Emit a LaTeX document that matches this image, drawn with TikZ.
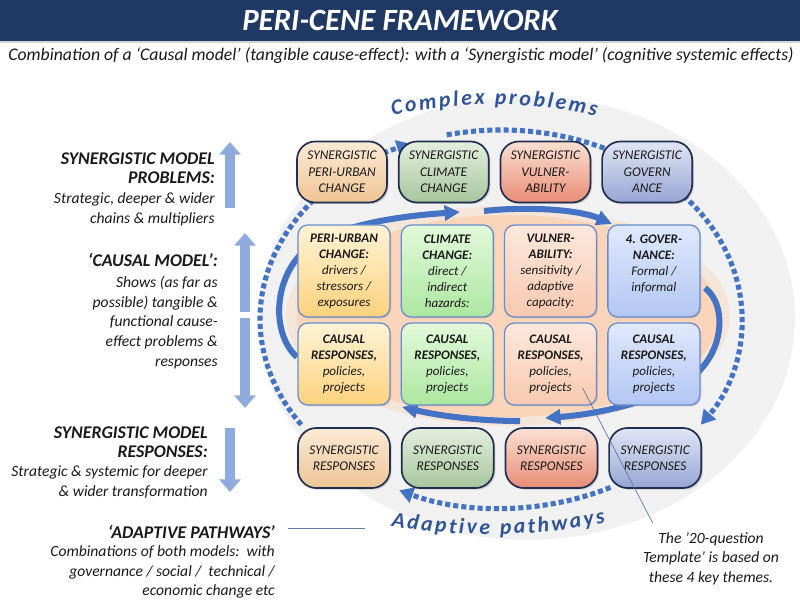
\documentclass[tikz,border=0pt]{standalone}
\usepackage{fontspec}
\setmainfont{Carlito}
\usetikzlibrary{arrows.meta,chains,positioning,shadows,decorations.text}

\definecolor{barnavy}{RGB}{32,56,100}
\definecolor{ringblue}{RGB}{68,114,196}
\definecolor{arcblue}{RGB}{47,85,151}
\definecolor{sideblue}{RGB}{143,170,220}
\definecolor{boxedge}{RGB}{105,140,205}
\definecolor{synedge}{RGB}{32,46,82}
\definecolor{haze}{RGB}{241,241,241}
\definecolor{peach}{RGB}{250,213,186}
\definecolor{ink}{RGB}{25,25,25}
\definecolor{synurbanhi}{RGB}{251,234,214}
\definecolor{synurbanlo}{RGB}{238,196,148}
\definecolor{synclimhi}{RGB}{228,238,222}
\definecolor{synclimlo}{RGB}{166,198,156}
\definecolor{synvulnhi}{RGB}{250,224,210}
\definecolor{synvulnlo}{RGB}{233,140,118}
\definecolor{syngovhi}{RGB}{224,229,244}
\definecolor{syngovlo}{RGB}{150,166,211}
\definecolor{urbanhi}{RGB}{255,243,214}
\definecolor{urbanlo}{RGB}{252,210,125}
\definecolor{climhi}{RGB}{226,249,218}
\definecolor{climlo}{RGB}{172,230,160}
\definecolor{vulnhi}{RGB}{253,232,220}
\definecolor{vulnlo}{RGB}{247,201,176}
\definecolor{govhi}{RGB}{224,233,252}
\definecolor{govlo}{RGB}{178,198,243}

\newcommand\arcstyle{\bfseries\itshape\fontsize{15.5}{18}\selectfont\color{arcblue}\kern1.8pt}

\begin{document}
\begin{tikzpicture}[
  x=0.025cm, y=0.025cm,
  node distance=0.25cm,
  start chain=problems going right,
  start chain=causes going right,
  start chain=answers going right,
  start chain=responses going right,
  synergy/.style={
    draw=synedge,
    line width=1.2pt,
    rounded corners=13pt,
    minimum width=2.25cm,
    minimum height=1.525cm,
    inner sep=1pt,
    align=center,
    text=ink,
    font=\fontsize{9.5}{11.8}\selectfont\itshape,
    drop shadow={opacity=0.3,shadow xshift=1.2pt,shadow yshift=-1.2pt}
  },
  causal/.style={
    draw=boxedge,
    line width=0.9pt,
    rounded corners=7pt,
    minimum width=2.3cm,
    inner sep=1pt,
    align=center,
    text=ink,
    font=\fontsize{9.3}{11.4}\selectfont\itshape,
    drop shadow={opacity=0.25,shadow xshift=1pt,shadow yshift=-1pt}
  },
  synurban/.style={top color=synurbanhi,bottom color=synurbanlo},
  synclim/.style={top color=synclimhi,bottom color=synclimlo},
  synvuln/.style={top color=synvulnhi,bottom color=synvulnlo},
  syngov/.style={top color=syngovhi,bottom color=syngovlo},
  urban/.style={top color=urbanhi,bottom color=urbanlo},
  clim/.style={top color=climhi,bottom color=climlo},
  vuln/.style={top color=vulnhi,bottom color=vulnlo},
  gov/.style={top color=govhi,bottom color=govlo},
  heading/.style={
    anchor=north east,
    align=right,
    inner sep=0pt,
    text=ink,
    font=\fontsize{12.7}{14.2}\selectfont\bfseries\itshape
  },
  sidebody/.style={
    align=right,
    inner sep=0pt,
    text=ink,
    font=\fontsize{11.1}{14}\selectfont\itshape
  },
  sidearrow/.style={color=sideblue,line width=7pt,-{Triangle[length=9pt,width=15pt]}},
  ringdots/.style={draw=ringblue,line width=3.6pt,dash pattern=on 3.6pt off 2.2pt,-{Triangle[length=10pt,width=11pt]}},
  flow/.style={draw=ringblue,line width=4.3pt,-{Triangle[length=11pt,width=10.5pt]}},
  noteline/.style={draw=ringblue!55!gray,line width=0.5pt}
]
  \useasboundingbox (0,0) rectangle (800,-600);

  \node[fill=barnavy,minimum width=20cm,minimum height=1.025cm,anchor=north,text=white,
    font=\fontsize{22}{24}\selectfont\bfseries\itshape,
    drop shadow={opacity=0.35,shadow xshift=0pt,shadow yshift=-1.5pt}] (title) at (400,0) {PERI-CENE FRAMEWORK};
  \node[text=ink,font=\fontsize{12.6}{14}\selectfont\itshape] (subtitle) at (401,-56)
    {Combination of a ‘Causal model’ (tangible cause-effect): with a ‘Synergistic model’ (cognitive systemic effects)};

  \coordinate (ring) at (501,-319);
  \coordinate (core) at (508,-316);

  \fill[haze] (527,-318) ellipse [x radius=268, y radius=222];
  \fill[peach!45!haze] (core) ellipse [x radius=222, y radius=110];
  \fill[peach] (core) ellipse [x radius=211, y radius=101];

  \draw[ringdots] ([shift={(214:241 and 189)}]ring) arc[start angle=214,end angle=112,x radius=241,y radius=189];
  \draw[ringdots] ([shift={(103:241 and 189)}]ring) arc[start angle=103,end angle=-34,x radius=241,y radius=189];
  \draw[ringdots] ([shift={(-63:241 and 189)}]ring) arc[start angle=-63,end angle=-115,x radius=241,y radius=189];

  \coordinate (west-in) at (297,-357);
  \coordinate (north-mid) at (460,-212);
  \coordinate (north-out) at (484,-211);
  \coordinate (north-east) at (612,-224);
  \coordinate (east-in) at (705,-288);
  \coordinate (south-mid) at (545,-418);
  \coordinate (south-out) at (520,-421);
  \coordinate (south-west) at (402,-407);

  \draw[flow] (west-in) .. controls (272,-335) and (272,-280) .. (305,-250)
    .. controls (335,-225) and (400,-216) .. (north-mid);
  \draw[flow] (north-out) .. controls (530,-206) and (580,-210) .. (north-east);
  \draw[flow] (east-in) .. controls (728,-305) and (725,-358) .. (685,-382)
    .. controls (650,-402) and (600,-414) .. (south-mid);
  \draw[flow] (south-out) .. controls (480,-421) and (440,-416) .. (south-west);

  \node[synergy,on chain=problems,synurban] (urban-syn) at (342,-172) {SYNERGISTIC\\PERI-URBAN\\CHANGE};
  \node[synergy,on chain=problems,synclim] (climate-syn) {SYNERGISTIC\\CLIMATE\\CHANGE};
  \node[synergy,on chain=problems,synvuln] (vuln-syn) {SYNERGISTIC\\VULNER-\\ABILITY};
  \node[synergy,on chain=problems,syngov] (gov-syn) {SYNERGISTIC\\GOVERN\\ANCE};

  \node[causal,minimum height=2.3cm,on chain=causes,urban] (urban) at (344,-271)
    {\textbf{PERI-URBAN}\\\textbf{CHANGE:}\\drivers /\\stressors /\\exposures};
  \node[causal,minimum height=2.3cm,on chain=causes,clim] (climate)
    {\textbf{CLIMATE}\\\textbf{CHANGE:}\\direct /\\indirect\\hazards:};
  \node[causal,minimum height=2.3cm,on chain=causes,vuln] (vuln)
    {\textbf{VULNER-}\\\textbf{ABILITY:}\\sensitivity /\\adaptive\\capacity:};
  \node[causal,minimum height=2.3cm,on chain=causes,gov] (gov)
    {\textbf{4. GOVER-}\\\textbf{NANCE:}\\Formal /\\informal\\~};

  \node[causal,minimum height=2.05cm,on chain=answers,urban] (urban-act) at (344,-364)
    {\textbf{CAUSAL}\\\textbf{RESPONSES,}\\policies,\\projects};
  \node[causal,minimum height=2.05cm,on chain=answers,clim] (climate-act)
    {\textbf{CAUSAL}\\\textbf{RESPONSES,}\\policies,\\projects};
  \node[causal,minimum height=2.05cm,on chain=answers,vuln] (vuln-act)
    {\textbf{CAUSAL}\\\textbf{RESPONSES,}\\policies,\\projects};
  \node[causal,minimum height=2.05cm,on chain=answers,gov] (gov-act)
    {\textbf{CAUSAL}\\\textbf{RESPONSES,}\\policies,\\projects};

  \node[synergy,minimum width=2.3cm,minimum height=1.5cm,on chain=responses,synurban] (urban-resp) at (344,-458) {SYNERGISTIC\\RESPONSES};
  \node[synergy,minimum width=2.3cm,minimum height=1.5cm,on chain=responses,synclim] (climate-resp) {SYNERGISTIC\\RESPONSES};
  \node[synergy,minimum width=2.3cm,minimum height=1.5cm,on chain=responses,synvuln] (vuln-resp) {SYNERGISTIC\\RESPONSES};
  \node[synergy,minimum width=2.3cm,minimum height=1.5cm,on chain=responses,syngov] (gov-resp) {SYNERGISTIC\\RESPONSES};

  \path[decorate,decoration={text along path,text align=center,text={|\arcstyle|Complex problems}}]
    (372,-121) .. controls (445,-99) and (540,-99) .. (614,-121);
  \path[decorate,decoration={text along path,text align=center,text={|\arcstyle|Adaptive pathways}}]
    (370,-522) .. controls (445,-539) and (545,-539) .. (624,-518);

  \node[heading] (synprob) at (215,-152) {SYNERGISTIC MODEL\\PROBLEMS:};
  \node[sidebody,below=0.2cm of synprob.south east,anchor=north east] (synprob-text)
    {Strategic, deeper \& wider\\chains \& multipliers};
  \node[heading] (causal-model) at (218,-253) {‘CAUSAL MODEL’:};
  \node[sidebody,below=0.22cm of causal-model.south east,anchor=north east] (causal-text)
    {Shows (as far as\\possible) tangible \&\\functional cause-\\effect problems \&\\responses};
  \node[heading] (synresp) at (208,-426) {SYNERGISTIC MODEL\\RESPONSES:};
  \node[sidebody,below=0.18cm of synresp.south east,anchor=north east] (synresp-text)
    {Strategic \& systemic for deeper\\\& wider transformation};
  \node[heading] (adaptive) at (275,-525) {‘ADAPTIVE PATHWAYS’};
  \node[sidebody,below=0.16cm of adaptive.south east,anchor=north east] (adaptive-text)
    {Combinations of both models:\ \ with\\governance / social /\ \ technical /\\economic change etc};

  \coordinate (up-a) at (230,-208);
  \coordinate (up-b) at (230,-142);
  \coordinate (up-c) at (245,-312);
  \coordinate (up-d) at (245,-233);
  \coordinate (down-a) at (245,-318);
  \coordinate (down-b) at (245,-408);
  \coordinate (down-c) at (230,-428);
  \coordinate (down-d) at (230,-492);
  \draw[sidearrow] (up-a) -- (up-b);
  \draw[sidearrow] (up-c) -- (up-d);
  \draw[sidearrow] (down-a) -- (down-b);
  \draw[sidearrow] (down-c) -- (down-d);

  \node[sidebody,align=center,anchor=north] (note) at (711,-532)
    {The ’20-question\\Template’ is based on\\these 4 key themes.};
  \draw[noteline] ([shift={(32,-24)}]vuln-act.center) -- ([shift={(10,9)}]note.north west);
  \draw[noteline] ([shift={(13,4)}]adaptive.east) -- ([shift={(90,4)}]adaptive.east);
\end{tikzpicture}
\end{document}
